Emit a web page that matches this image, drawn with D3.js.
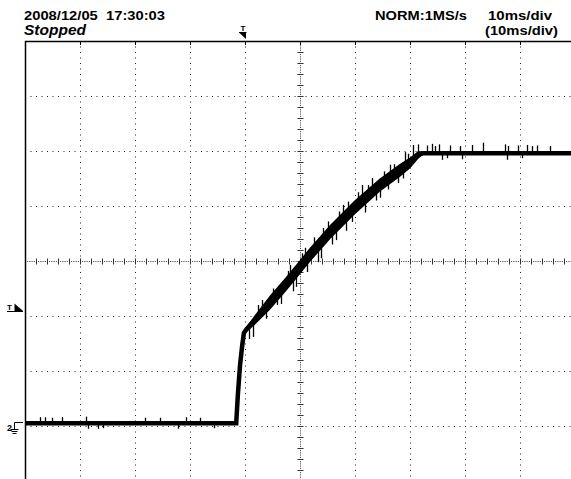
<!DOCTYPE html>
<head>
  <meta charset="utf-8">
  <script src="https://d3js.org/d3.v7.min.js"></script>
  <style>
    body { margin: 0; background: #fff; }
    svg { width: 571px; height: 479px; display: block; }
    text { font-family: "Liberation Sans", Arial, sans-serif; fill: #000; white-space: pre; }
  </style>
</head>

<body>
  <svg></svg>

  <script>
    const width = 571;
    const height = 479;

    // trace: time (ms, 0 = screen centre) and level (divisions, 0 = centre)
    const timeMs = [-50, -11.6, -11.3, -10.9, -10.5, -10.2, -9.8, -8.2, -5.5, -2.7, 0, 1.8, 5.5, 10, 14.5, 18.2, 20, 21.5, 22.4, 50];
    const level  = [-2.95, -2.95, -2.44, -1.89, -1.53, -1.31, -1.25, -1.07, -0.76, -0.44, -0.11, 0.11, 0.53, 0.98, 1.38, 1.65, 1.78, 1.93, 1.96, 1.96];
    // half width of the noise band around the trace (divisions)
    const noise  = [0, 0, 0, 0, 0, 0.03, 0.05, 0.09, 0.13, 0.13, 0.13, 0.13, 0.13, 0.13, 0.12, 0.12, 0.1, 0.07, 0.03, 0];

    // single noise spikes: [time ms, tip level]
    const spikes = [
      [-47.3, -2.84], [-46.4, -2.84], [-45.1, -2.85], [-43.3, -2.84], [-38.9, -2.83], [-38.5, -3.05],
      [-36.7, -3.05], [-35.8, -3.04], [-28.2, -2.85], [-25.5, -2.85], [-22.2, -3.05], [-20.7, -2.84],
      [-18.2, -2.85], [-15.6, -3.04],
      [-9.3, -1.42], [-8.5, -1.38], [-7.6, -0.8], [-6.9, -0.71], [-6.2, -1.05], [-5.0, -0.5],
      [-4.2, -0.8], [-3.5, -0.78], [-2.2, -0.18], [-1.8, -0.07], [-1.2, -0.55], [-0.7, -0.47],
      [0.4, 0.14], [0.9, 0.24], [1.3, -0.2], [2.6, 0.43], [3.3, -0.02], [3.9, 0.05], [4.2, 0.6],
      [5.0, 0.72], [5.9, 0.3], [6.5, 0.38], [7.0, 0.9], [7.8, 1.02], [8.3, 0.55], [8.8, 1.08],
      [9.5, 0.71], [10.5, 1.25], [11.3, 1.38], [11.9, 0.88], [12.4, 1.38], [13.1, 1.51], [13.8, 1.1],
      [14.5, 1.15], [15.2, 1.63], [16.0, 1.3], [16.4, 1.75], [17.1, 1.76], [17.8, 1.42], [18.7, 1.5],
      [19.1, 1.98], [19.6, 1.95], [20.5, 2.11],
      [21.5, 2.12], [23.1, 2.10], [24.0, 2.13], [24.5, 2.09], [25.3, 2.12], [25.8, 1.84], [26.7, 1.87],
      [27.3, 2.10], [29.1, 2.09], [29.5, 1.85], [31.3, 2.11], [33.3, 2.15], [37.3, 2.12], [37.6, 1.84],
      [37.8, 2.09], [39.6, 2.10], [40.4, 1.87], [41.3, 2.11], [42.2, 2.09], [43.1, 2.10], [45.5, 2.09]
    ];

    // graticule
    const gridTime  = [-40, -30, -20, -10, 10, 20, 30, 40];
    const gridLevel = [-3, -2, -1, 1, 2, 3];

    // header texts
    const headerTexts = [
      { text: '2008/12/05  17:30:03', x: 24, y: 20, len: 141 },
      { text: 'NORM:1MS/s', x: 375, y: 20, len: 92 },
      { text: '10ms/div', x: 488, y: 20, len: 64 },
      { text: '(10ms/div)', x: 485, y: 35, len: 73 }
    ];

    const svg = d3.select('svg');

    const x = d3.scaleLinear().domain([-50, 50]).range([25, 575]);
    const y = d3.scaleLinear().domain([-4, 4]).range([481, 41]);

    /*****************************************************
    ** graticule
    ******************************************************/

    const grid = svg.append('g');

    grid.selectAll('.vdot')
      .data(gridTime).enter().append('line')
      .attr('x1', d => Math.round(x(d)) + 0.5)
      .attr('x2', d => Math.round(x(d)) + 0.5)
      .attr('y1', y(4) + 5.5)
      .attr('y2', height)
      .attr('stroke', '#222')
      .attr('stroke-dasharray', '1 4.5');

    grid.selectAll('.hdot')
      .data(gridLevel).enter().append('line')
      .attr('y1', d => Math.round(y(d)) + 0.5)
      .attr('y2', d => Math.round(y(d)) + 0.5)
      .attr('x1', x(-50) + 5.5)
      .attr('x2', width)
      .attr('stroke', '#222')
      .attr('stroke-dasharray', '1 4.5');

    // centre cross with minor ticks
    const cx = Math.round(x(0)) + 0.5;
    const cy = Math.round(y(0)) + 0.5;

    grid.append('line')
      .attr('x1', cx).attr('x2', cx).attr('y1', y(4)).attr('y2', height)
      .attr('stroke', '#333').attr('stroke-dasharray', '1 1.2');
    grid.append('line')
      .attr('y1', cy).attr('y2', cy).attr('x1', x(-50)).attr('x2', width)
      .attr('stroke', '#333').attr('stroke-dasharray', '1 1.2');

    grid.selectAll('.htick')
      .data(d3.range(-48, 50, 2)).enter().append('line')
      .attr('x1', d => Math.round(x(d)) + 0.5)
      .attr('x2', d => Math.round(x(d)) + 0.5)
      .attr('y1', cy - 3).attr('y2', cy + 3)
      .attr('stroke', '#333');

    grid.selectAll('.vtick')
      .data(d3.range(-3.8, 4, 0.2)).enter().append('line')
      .attr('y1', d => Math.round(y(d)) + 0.5)
      .attr('y2', d => Math.round(y(d)) + 0.5)
      .attr('x1', cx - 3).attr('x2', cx + 3)
      .attr('stroke', '#333');

    // frame (right and bottom edges fall outside the window)
    grid.append('line')
      .attr('x1', 25).attr('x2', width).attr('y1', 41.5).attr('y2', 41.5)
      .attr('stroke', '#000').attr('stroke-width', 1.5);
    grid.append('line')
      .attr('x1', 25.5).attr('x2', 25.5).attr('y1', 41).attr('y2', height)
      .attr('stroke', '#000').attr('stroke-width', 1.5);

    grid.selectAll('.ttick')
      .data(gridTime.concat([0])).enter().append('line')
      .attr('x1', d => Math.round(x(d)) + 0.5)
      .attr('x2', d => Math.round(x(d)) + 0.5)
      .attr('y1', 42).attr('y2', 45)
      .attr('stroke', '#000');

    /*****************************************************
    ** trace
    ******************************************************/

    const pts = timeMs.map((t, i) => ({ t, v: level[i], n: noise[i] }));

    svg.append('path')
      .datum(pts)
      .attr('d', d3.area().x(d => x(d.t)).y0(d => y(d.v - d.n)).y1(d => y(d.v + d.n)))
      .attr('fill', '#000');

    svg.append('path')
      .datum(pts)
      .attr('d', d3.line().x(d => x(d.t)).y(d => y(d.v)))
      .attr('fill', 'none')
      .attr('stroke', '#000')
      .attr('stroke-width', 4.5);

    const levelAt = d3.scaleLinear().domain(timeMs).range(level);

    svg.selectAll('.spike')
      .data(spikes).enter().append('line')
      .attr('x1', d => Math.round(x(d[0])) + 0.5)
      .attr('x2', d => Math.round(x(d[0])) + 0.5)
      .attr('y1', d => y(levelAt(d[0])))
      .attr('y2', d => y(d[1]))
      .attr('stroke', '#000')
      .attr('stroke-width', 1.3);

    /*****************************************************
    ** markers and header
    ******************************************************/

    // trigger position (top)
    svg.append('text').attr('x', 240.5).attr('y', 31).attr('font-size', 8).attr('font-weight', 'bold').text('T');
    svg.append('path').attr('d', 'M239,32.5H246.5').attr('stroke', '#000');
    svg.append('path').attr('d', 'M239.5,33L246,33L246,39Z').attr('fill', '#000');

    // trigger level (left)
    svg.append('text').attr('x', 7).attr('y', 310).attr('font-size', 8).attr('font-weight', 'bold').text('T');
    svg.append('path').attr('d', 'M7,311.5H23').attr('stroke', '#000');
    svg.append('path').attr('d', 'M14.5,303.5L23,311L14.5,311Z').attr('fill', '#000');

    // channel 2 ground reference
    svg.append('text').attr('x', 7).attr('y', 431).attr('font-size', 9).attr('font-weight', 'bold').text('2');
    svg.append('path').attr('d', 'M23,422.5H14.5V429.5').attr('fill', 'none').attr('stroke', '#000');
    svg.append('path')
      .attr('d', 'M10.5,429.5H18.5M11.5,431.5H17.5M12.5,433.5H16.5')
      .attr('stroke', '#000');

    svg.selectAll('.hdr')
      .data(headerTexts).enter().append('text')
      .attr('x', d => d.x)
      .attr('y', d => d.y)
      .attr('font-size', 13)
      .attr('font-weight', 'bold')
      .attr('textLength', d => d.len)
      .attr('lengthAdjust', 'spacingAndGlyphs')
      .text(d => d.text);

    svg.append('text')
      .attr('x', 24).attr('y', 35)
      .attr('font-size', 14)
      .attr('font-weight', 'bold')
      .attr('font-style', 'italic')
      .attr('textLength', 62)
      .attr('lengthAdjust', 'spacingAndGlyphs')
      .text('Stopped');
  </script>
</body>
